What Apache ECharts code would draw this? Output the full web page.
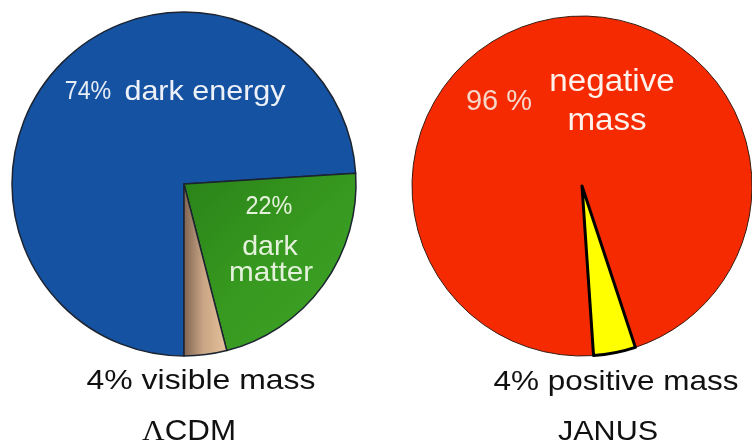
<!DOCTYPE html>
<html lang="en">
<head>
    <meta charset="UTF-8">
    <title>LCDM vs JANUS</title>
    <script src="https://cdn.jsdelivr.net/npm/echarts@6/dist/echarts.min.js"></script>
    <style>
        html,body{margin:0;padding:0;background:#fff;}
    </style>
</head>
<body>
    <div id="main" style="width:752px;height:446px;"></div>
    <script type="text/javascript">
        // ΛCDM pie
        var lcdmNames=['dark energy','dark matter','visible mass'];
        var lcdmValues=[74,22,4];
        // JANUS pie
        var janusNames=['negative mass','positive mass'];
        var janusValues=[96,4];
        // texts
        var lcdmTexts=['74%','dark energy','22%','dark','matter','4% visible mass','CDM'];
        var janusTexts=['96 %','negative','mass','4% positive mass','JANUS'];

        var chartDom=document.getElementById('main');
        var chart=echarts.init(chartDom);
        var fam='"Liberation Sans", Arial, sans-serif';

        function txt(s,x,y,size,color,sx){
            return {
                type:'text',x:x,y:y,scaleX:sx||1,z:100,
                style:{
                    text:s,fill:color,fontSize:size,fontFamily:fam,
                    textAlign:'center',align:'center',
                    textVerticalAlign:'middle',verticalAlign:'middle'
                }
            };
        }

        var green=new echarts.graphic.LinearGradient(0,0,1,1,[
            {offset:0,color:'#2a8219'},{offset:0.5,color:'#37991f'},{offset:1,color:'#40a52a'}]);
        var tan=new echarts.graphic.LinearGradient(0,0,1,0,[
            {offset:0,color:'#7d6250'},{offset:0.45,color:'#c9a585'},{offset:1,color:'#e6c29c'}]);

        var lcdmColors=['#1652a2',green,tan];
        var janusColors=['#f52a00','#ffff00'];

        var lcdmData=lcdmValues.map(function(v,i){
            return {name:lcdmNames[i],value:v,itemStyle:{color:lcdmColors[i]}};
        });
        var janusData=janusValues.map(function(v,i){
            return {name:janusNames[i],value:v,itemStyle:{
                color:janusColors[i],
                borderColor:i===1?'#000':'#3a1a10',
                borderWidth:i===1?3:1
            }};
        });

        var option={
            backgroundColor:'#fff',
            animation:false,
            series:[
                {
                    type:'pie',
                    center:[184,184],
                    radius:172,
                    startAngle:-90,
                    clockwise:true,
                    label:{show:false},
                    labelLine:{show:false},
                    emphasis:{disabled:true},
                    itemStyle:{borderColor:'#1b2430',borderWidth:1.5},
                    data:lcdmData
                },
                {
                    type:'pie',
                    center:[582,186],
                    radius:170,
                    startAngle:-86.1,
                    clockwise:true,
                    label:{show:false},
                    labelLine:{show:false},
                    emphasis:{disabled:true},
                    data:janusData
                }
            ],
            graphic:[
                txt(lcdmTexts[0],88,92,25,'#e6edf7',0.93),
                txt(lcdmTexts[1],205,92,28,'#eef2f8',1.09),
                txt(lcdmTexts[2],269,207,26,'#e4f2dc',0.9),
                txt(lcdmTexts[3],270,247,28,'#e4f2dc',1.02),
                txt(lcdmTexts[4],271,273,28,'#e4f2dc',1.06),
                txt(lcdmTexts[5],201,381,28,'#111',1.14),
                {
                    type:'text',x:189,y:432,scaleX:1.08,z:100,
                    style:{
                        text:'{l|Λ}'+lcdmTexts[6],fill:'#111',fontSize:29,fontFamily:fam,
                        textAlign:'center',align:'center',
                        textVerticalAlign:'middle',verticalAlign:'middle',
                        rich:{l:{fontFamily:'"Liberation Serif", "Times New Roman", serif',fontSize:29,fill:'#111'}}
                    }
                },
                txt(janusTexts[0],499,102,29,'#f6d6c8',1.0),
                txt(janusTexts[1],612,82,31,'#fff2ec',1.07),
                txt(janusTexts[2],607,121,31,'#fff2ec',1.07),
                txt(janusTexts[3],616,382,28,'#111',1.125),
                txt(janusTexts[4],608,432,28,'#111',1.09)
            ]
        };
        chart.setOption(option);
    </script>
</body>
</html>
